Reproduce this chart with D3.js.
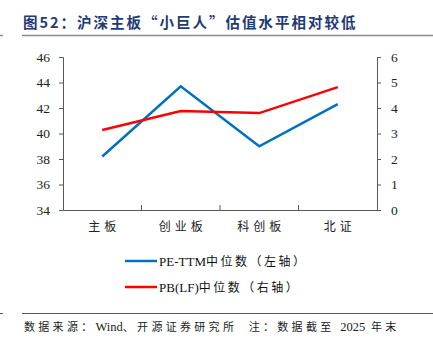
<!DOCTYPE html>
<html><head><meta charset="utf-8">
<script src="https://cdn.jsdelivr.net/npm/d3@7"></script>
<style>body{margin:0;background:#fff;}svg{display:block;}</style>
</head><body>
<script>
const categories = ["主板", "创业板", "科创板", "北证"];
const peTTM = [38.2, 43.7, 39.0, 42.3];
const pbLF = [3.14, 3.88, 3.80, 4.82];
const leftTicks = [34, 36, 38, 40, 42, 44, 46];
const rightTicks = [0, 1, 2, 3, 4, 5, 6];
const titleText = "图52：沪深主板“小巨人”估值水平相对较低";
const sourceParts = ["数据来源：", "Wind", "、开源证券研究所  注：数据截至 ", "2025", " 年末"];
const legendLabels = ["PE-TTM中位数（左轴）", "PB(LF)中位数（右轴）"];

const W = 433, H = 346;
const svg = d3.select("body").append("svg").attr("width", W).attr("height", H);
const serif = "'Liberation Serif', 'Times New Roman', serif";
const cjk = "'Noto Sans CJK SC', sans-serif";

// title
svg.append("text").attr("x", 23).attr("y", 28).attr("font-family", cjk).attr("font-weight", "bold")
  .attr("font-size", 14.5).attr("letter-spacing", 2).attr("fill", "#1F3B73").text(titleText);
svg.append("line").attr("x1", 22).attr("x2", W).attr("y1", 35.5).attr("y2", 35.5).attr("stroke", "#8c8c8c").attr("stroke-width", 1.5);
svg.append("line").attr("x1", 0).attr("x2", 3).attr("y1", 35.5).attr("y2", 35.5).attr("stroke", "#8c8c8c").attr("stroke-width", 1.5);

const x = d3.scaleBand().domain(categories).range([63, 377]);
const yL = d3.scaleLinear().domain([34, 46]).range([210, 57]);
const yR = d3.scaleLinear().domain([0, 6]).range([210, 57]);

const axisColor = "#595959";
const gL = svg.append("g").attr("transform", "translate(63,0)")
  .call(d3.axisLeft(yL).tickValues(leftTicks).tickSize(4).tickPadding(9).tickFormat(d3.format("d")));
const gR = svg.append("g").attr("transform", "translate(377,0)")
  .call(d3.axisRight(yR).tickValues(rightTicks).tickSize(4).tickPadding(10).tickFormat(d3.format("d")));
const gX = svg.append("g").attr("transform", "translate(0,210)")
  .call(d3.axisBottom(x).tickSizeInner(0).tickSizeOuter(0).tickPadding(12));
svg.append("g").selectAll("line").data(categories.slice(1)).join("line")
  .attr("x1", d => x(d)).attr("x2", d => x(d)).attr("y1", 205).attr("y2", 210)
  .attr("stroke", axisColor).attr("stroke-width", 1);

[gL, gR, gX].forEach(g => {
  g.selectAll("path,line").attr("stroke", axisColor);
  g.selectAll("text").attr("fill", "#222").attr("font-family", serif).attr("font-size", 13.5);
});
gX.selectAll("text").attr("font-family", cjk).attr("font-size", 12).attr("letter-spacing", 4).attr("dx", 2);

const lineL = d3.line().x((d, i) => x(categories[i]) + x.bandwidth() / 2).y(d => yL(d));
const lineR = d3.line().x((d, i) => x(categories[i]) + x.bandwidth() / 2).y(d => yR(d));
svg.append("path").datum(peTTM).attr("d", lineL).attr("fill", "none").attr("stroke", "#0070C0").attr("stroke-width", 2.5);
svg.append("path").datum(pbLF).attr("d", lineR).attr("fill", "none").attr("stroke", "#FF0000").attr("stroke-width", 2.5);

// legend
const legColors = ["#0070C0", "#FF0000"];
legendLabels.forEach((lab, i) => {
  const yy = 261 + i * 26;
  svg.append("line").attr("x1", 125).attr("x2", 157).attr("y1", yy).attr("y2", yy).attr("stroke", legColors[i]).attr("stroke-width", 2.5);
  const t = svg.append("text").attr("x", 159).attr("y", yy + 5).attr("fill", "#111").attr("font-size", 13);
  const m = lab.match(/^([A-Za-z\-\(\)]+)(.*)$/);
  t.append("tspan").attr("font-family", serif).text(m[1]);
  t.append("tspan").attr("font-family", cjk).attr("font-size", 12).attr("letter-spacing", 2.5).text(m[2]);
});

// footer
svg.append("line").attr("x1", 22).attr("x2", W).attr("y1", 313.5).attr("y2", 313.5).attr("stroke", "#555").attr("stroke-width", 1);
svg.append("line").attr("x1", 0).attr("x2", 3).attr("y1", 313.5).attr("y2", 313.5).attr("stroke", "#555").attr("stroke-width", 1);
const ft = svg.append("text").attr("x", 24).attr("y", 331).attr("font-size", 11).attr("fill", "#222").attr("xml:space", "preserve").style("white-space", "pre");
sourceParts.forEach((p, i) => {
  const isLatin = /^[A-Za-z0-9]+$/.test(p);
  ft.append("tspan").attr("font-family", isLatin ? serif : cjk)
    .attr("font-size", isLatin ? 12.5 : 11).attr("letter-spacing", isLatin ? 0 : 3.3).text(p);
});
</script>
</body></html>
